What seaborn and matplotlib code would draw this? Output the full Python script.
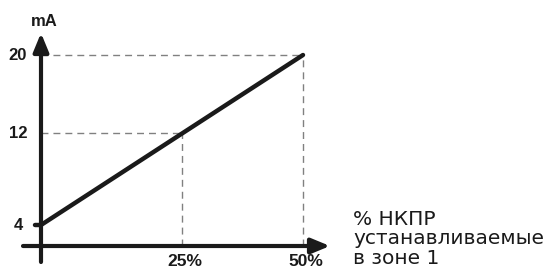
import numpy as np
import pandas as pd
import seaborn as sns
import matplotlib.pyplot as plt

# данные
pct = [0, 50]            # % НКПР
ma = [4, 20]             # ток, mA
x_ticks = [25, 50]
x_labels = ['25%', '50%']
y_ticks = [4, 12, 20]
y_labels = ['4', '12', '20']
side_lines = ['% НКПР', 'устанавливаемые', 'в зоне 1']

sns.set_style('white')
plt.rcParams['font.family'] = ['Liberation Sans', 'DejaVu Sans']

W, H = 550, 269
fig = plt.figure(figsize=(W / 100, H / 100), dpi=100)
ax = fig.add_axes([0, 0, 1, 1])

# схема не в масштабе: кусочно-линейные шкалы (данные -> пиксели)
xk_data = np.array([-20, 0, 25, 50, 120])
xk_px = np.array([-71.8, 41, 182, 303, 641.8])
yk_data = np.array([-10, 4, 12, 20, 40])
yk_px = np.array([-117, 44, 136, 214, 409])


def x_fwd(v):
    return np.interp(v, xk_data, xk_px)


def x_inv(p):
    return np.interp(p, xk_px, xk_data)


def y_fwd(v):
    return np.interp(v, yk_data, yk_px)


def y_inv(p):
    return np.interp(p, yk_px, yk_data)


ax.set_xscale('function', functions=(x_fwd, x_inv))
ax.set_yscale('function', functions=(y_fwd, y_inv))
ax.set_xlim(x_inv(0), x_inv(W))
ax.set_ylim(y_inv(0), y_inv(H))
ax.axis('off')

x_axis_y = y_inv(H - 246)   # уровень оси X
y_bot = y_inv(H - 262)
y_top = y_inv(H - 33)
x_left = x_inv(23)
x_right = x_inv(330)

ink = '#1a1a1a'
# оси со стрелками
arrow = dict(arrowstyle='-|>,head_length=0.8,head_width=0.33', lw=3, color=ink,
             mutation_scale=14, shrinkA=0, shrinkB=0)
ax.annotate('', xy=(0, y_top), xytext=(0, y_bot), arrowprops=arrow)
ax.annotate('', xy=(x_right, x_axis_y), xytext=(x_left, x_axis_y), arrowprops=arrow)

# пунктирные линии
line_df = pd.DataFrame({'pct': pct, 'ma': ma})
slope = (ma[1] - ma[0]) / (pct[1] - pct[0])
for xt in x_ticks:
    yv = ma[0] + slope * (xt - pct[0])
    ax.plot([xt, xt], [x_axis_y, yv], ls=(0, (5, 3.6)), lw=1, color='#808080', zorder=1)
    ax.plot([0, xt], [yv, yv], ls=(0, (5, 3.6)), lw=1, color='#808080', zorder=1)

# основная линия
sns.lineplot(data=line_df, x='pct', y='ma', ax=ax, color=ink, lw=3.2,
             zorder=3, legend=False)
ax.annotate('', xy=(0, ma[0]), xytext=(-6, 0), xycoords='data', textcoords='offset pixels',
            arrowprops=dict(arrowstyle='-', lw=3.2, color=ink, shrinkA=0, shrinkB=0))

# подписи
for yt, lab in zip(y_ticks, y_labels):
    ax.annotate(lab, (0, yt), xytext=(-23, 0), textcoords='offset pixels',
                ha='center', va='center', fontsize=12, fontweight='bold', color=ink)
for xt, lab in zip(x_ticks, x_labels):
    ax.annotate(lab, (xt, x_axis_y), xytext=(3, -15), textcoords='offset pixels',
                ha='center', va='center', fontsize=12.5, fontweight='bold', color=ink)
ax.annotate('mA', (0, y_top), xytext=(3, 12), textcoords='offset pixels',
            ha='center', va='center', fontsize=12, fontweight='bold', color=ink)

for i, s in enumerate(side_lines):
    fig.text(353 / W, 1 - (225 + 19.5 * i) / H, s, ha='left', va='baseline',
             fontsize=14.5, color=ink, family=['DejaVu Sans'])

fig.savefig('out.png', dpi=100)
